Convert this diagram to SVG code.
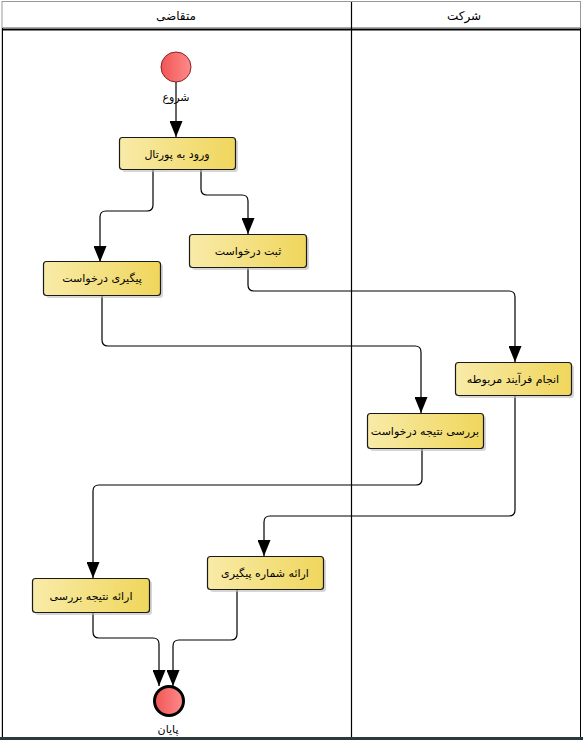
<svg xmlns="http://www.w3.org/2000/svg" width="583" height="740" viewBox="0 0 583 740">
<style>
.lbl{font-family:"DejaVu Sans",sans-serif;font-size:11px;fill:#000;text-anchor:middle;dominant-baseline:central}
.hd{font-size:12px}
.box{fill:url(#g);stroke:#1a1a1a;stroke-width:1.2}
.sh{fill:#bbb;opacity:.6}
.c{fill:none;stroke:#000;stroke-width:1.2}
</style>
<defs>
<linearGradient id="g" x1="0" y1="0" x2="1" y2="0">
<stop offset="0" stop-color="#f8eba8"/><stop offset="1" stop-color="#f0d65c"/>
</linearGradient>
<linearGradient id="r" x1="0" y1="0" x2="1" y2="0">
<stop offset="0" stop-color="#f05656"/><stop offset="1" stop-color="#ff8a8a"/>
</linearGradient>
<marker id="a" viewBox="0 0 16 13" refX="16" refY="6.5" markerWidth="16" markerHeight="13" markerUnits="userSpaceOnUse" orient="auto">
<path d="M0,0 L16,6.5 L0,13 Z" fill="#000"/>
</marker>
</defs>
<rect width="583" height="740" fill="#fff"/>
<g id="pool">
<rect x="2" y="1.5" width="578.5" height="736" fill="none" stroke="#999" stroke-width="1"/>
<line x1="2" y1="27.5" x2="580" y2="27.5" stroke="#aaa" stroke-width="1"/>
<line x1="2" y1="29.5" x2="580" y2="29.5" stroke="#000" stroke-width="2"/>
<line x1="2.5" y1="28" x2="2.5" y2="738" stroke="#000" stroke-width="1"/>
<line x1="580.5" y1="28" x2="580.5" y2="738" stroke="#000" stroke-width="1"/>
<line x1="351.5" y1="2" x2="351.5" y2="738" stroke="#000" stroke-width="1.2"/>
<rect x="0" y="737" width="583" height="3" fill="#2a3b40"/>
<text class="lbl hd" x="176" y="16">متقاضی</text>
<text class="lbl hd" x="464" y="16">شرکت</text>
</g>
<g id="connectors">
<path class="c" d="M176,82 V137" marker-end="url(#a)"/>
<path class="c" d="M153,169 V205 Q153,211 147,211 H106 Q100,211 100,217 V262" marker-end="url(#a)"/>
<path class="c" d="M201,169 V189 Q201,195 207,195 H242 Q248,195 248,201 V234" marker-end="url(#a)"/>
<path class="c" d="M248,268 V285 Q248,291 254,291 H509 Q515,291 515,297 V362" marker-end="url(#a)"/>
<path class="c" d="M102,296 V340 Q102,346 108,346 H415 Q421,346 421,352 V413" marker-end="url(#a)"/>
<path class="c" d="M422,449 V479 Q422,485 416,485 H99 Q93,485 93,491 V578" marker-end="url(#a)"/>
<path class="c" d="M515,395 V510 Q515,516 509,516 H270 Q264,516 264,522 V556" marker-end="url(#a)"/>
<path class="c" d="M93,612 V632 Q93,638 99,638 H153 Q159,638 159,644 V686" marker-end="url(#a)"/>
<path class="c" d="M237,589 V634 Q237,640 231,640 H179 Q173,640 173,646 V686" marker-end="url(#a)"/>
</g>
<g id="start">
<circle cx="176" cy="67" r="15" fill="url(#r)" stroke="#8a2020" stroke-width="1"/>
<text class="lbl" x="176" y="97">شروع</text>
</g>
<g id="n1">
<rect class="sh" x="122" y="140" width="116" height="32" rx="3"/>
<rect class="box" x="119.5" y="137.5" width="116" height="32" rx="3"/>
<text class="lbl" x="177" y="154">ورود به پورتال</text>
</g>
<g id="n2">
<rect class="sh" x="192" y="237" width="117" height="33" rx="3"/>
<rect class="box" x="189.5" y="234.5" width="117" height="33" rx="3"/>
<text class="lbl" x="248" y="251">ثبت درخواست</text>
</g>
<g id="n3">
<rect class="sh" x="46" y="264" width="117" height="34" rx="3"/>
<rect class="box" x="43.5" y="261.5" width="117" height="34" rx="3"/>
<text class="lbl" x="102" y="278">پیگیری درخواست</text>
</g>
<g id="n4">
<rect class="sh" x="458" y="365" width="116" height="33" rx="3"/>
<rect class="box" x="455.5" y="362.5" width="116" height="33" rx="3"/>
<text class="lbl" x="513" y="379">انجام فرآیند مربوطه</text>
</g>
<g id="n5">
<rect class="sh" x="370" y="416" width="116" height="35" rx="3"/>
<rect class="box" x="367.5" y="413.5" width="116" height="35" rx="3"/>
<text class="lbl" x="425" y="431">بررسی نتیجه درخواست</text>
</g>
<g id="n6">
<rect class="sh" x="210" y="559" width="116" height="33" rx="3"/>
<rect class="box" x="207.5" y="556.5" width="116" height="33" rx="3"/>
<text class="lbl" x="265" y="573">ارائه شماره پیگیری</text>
</g>
<g id="n7">
<rect class="sh" x="35" y="581" width="117" height="34" rx="3"/>
<rect class="box" x="32.5" y="578.5" width="117" height="34" rx="3"/>
<text class="lbl" x="91" y="596">ارائه نتیجه بررسی</text>
</g>
<g id="end">
<circle cx="169" cy="701" r="14.5" fill="url(#r)" stroke="#000" stroke-width="3"/>
<text class="lbl" x="168" y="729">پایان</text>
</g>
</svg>
